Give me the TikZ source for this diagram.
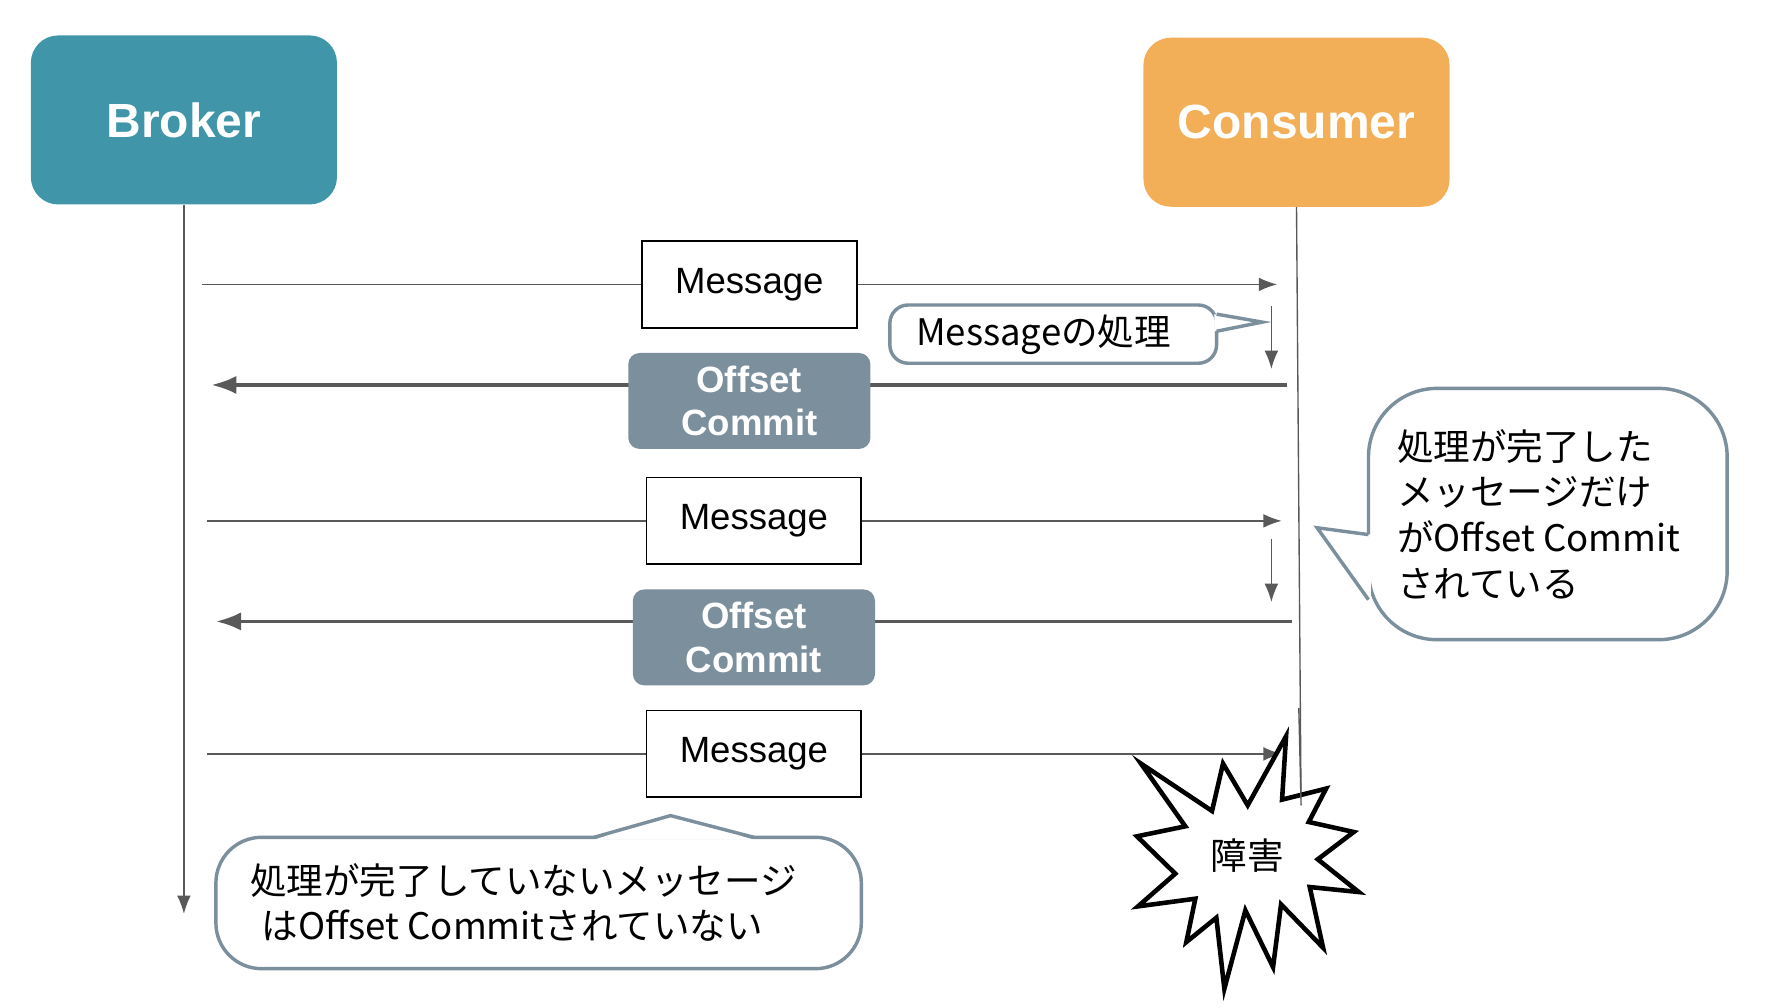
\documentclass[tikz,border=0pt]{standalone}
\usepackage{fontspec}
\setmainfont{Liberation Sans}
\newfontfamily\jp{Noto Sans CJK JP}
\usetikzlibrary{arrows.meta,positioning,calc}
\definecolor{brokerc}{HTML}{4096A8}
\definecolor{consc}{HTML}{F2AF57}
\definecolor{commitc}{HTML}{7B8F9C}
\definecolor{linec}{HTML}{595959}
\begin{document}
\begin{tikzpicture}[x=0.5pt, y=-0.5pt, >={Latex[length=8pt,width=6pt]},
    actor/.style={rounded corners=12pt, minimum width=134pt, minimum height=74pt, text=white, font=\fontsize{21}{24}\bfseries\selectfont},
    msg/.style={draw=black, thick, fill=white, minimum width=94pt, minimum height=38pt, font=\fontsize{16}{19}\selectfont},
    commit/.style={fill=commitc, rounded corners=5pt, minimum width=106pt, minimum height=42pt, text=white, align=center, font=\fontsize{16}{19}\bfseries\selectfont},
    send/.style={->, linec, semithick},
    ack/.style={->, linec, line width=1.6pt, >={Latex[length=11pt,width=8pt]}},
    note/.style={draw=commitc, line width=1.5pt, fill=white},
    notetext/.style={anchor=west, font=\fontsize{16}{20}\jp\selectfont}]
  \useasboundingbox (0,0) rectangle (1560,882);
  % actors
  \node[actor, fill=brokerc] (broker) at (161,105) {Broker};
  \node[actor, fill=consc] (consumer) at (1135,107) {Consumer};
  \coordinate (bend) at (161,800);
  \coordinate (cend) at (1139,705);
  \draw[send] (broker.south) -- (bend);
  \draw[linec, semithick] (consumer.south) -- (cend);
  % messages and commits
  \foreach \y/\xa/\xb/\n in {249/177/1118/1, 456/181/1122/2, 660/181/1122/3} {
    \coordinate (ms\n) at (\xa,\y);
    \coordinate (me\n) at (\xb,\y);
    \draw[send] (ms\n) -- (me\n);
  }
  \node[msg] (m1) at (656,249) {Message};
  \node[msg] (m2) at (660,456) {Message};
  \node[msg] (m3) at (660,660) {Message};
  \foreach \y/\xa/\xb/\n in {337/1127/185/1, 544/1131/189/2} {
    \coordinate (cs\n) at (\xa,\y);
    \coordinate (ce\n) at (\xb,\y);
    \draw[ack] (cs\n) -- (ce\n);
  }
  \node[commit] (c1) at (656,351) {Offset\\Commit};
  \node[commit] (c2) at (660,558) {Offset\\Commit};
  % processing
  \coordinate (p1a) at (1113,268); \coordinate (p1b) at (1113,323);
  \coordinate (p2a) at (1113,472); \coordinate (p2b) at (1113,527);
  \draw[send] (p1a) -- (p1b);
  \draw[send] (p2a) -- (p2b);
  % notes
  \draw[note, rounded corners=8pt] (779,267) rectangle (1065,318);
  \fill[white] (1063,275) -- (1105,282) -- (1063,290) -- cycle;
  \draw[commitc, line width=1.5pt] (1065,275) -- (1105,282) -- (1065,290);
  \node[notetext] (n1) at (795,293) {Messageの処理};
  \draw[note, rounded corners=30pt] (1198,340) rectangle (1512,560);
  \fill[white] (1200,468) -- (1153,462) -- (1200,525) -- cycle;
  \draw[commitc, line width=1.5pt] (1198,468) -- (1153,462) -- (1198,525);
  \node[notetext, align=left, font=\fontsize{16}{20}\jp\selectfont] (n2) at (1216,450) {処理が完了した\\メッセージだけ\\がOffset Commit\\されている};
  \draw[note, rounded corners=20pt] (189,733) rectangle (754,848);
  \fill[white] (520,735) -- (587,714) -- (660,735) -- cycle;
  \draw[commitc, line width=1.5pt] (520,733) -- (587,714) -- (660,733);
  \node[notetext, align=left] (n3) at (212,790) {処理が完了していないメッセージ\\\hspace*{5pt}はOffset Commitされていない};
  % failure
  \begin{scope}[shift={(963.2,613)}, scale=0.292]
    \draw[black, line width=2pt, fill=white] (557,108) -- (545,298) -- (677,265) -- (625,365) -- (760,395) -- (652,477) -- (775,575) -- (628,560) -- (668,742) -- (542,612) -- (518,800) -- (435,630) -- (372,865) -- (348,652) -- (258,725) -- (285,595) -- (113,618) -- (225,520) -- (110,408) -- (255,378) -- (122,190) -- (335,332) -- (368,190) -- (442,315) -- cycle;
    \node[font=\fontsize{16}{20}\jp\selectfont] (fail) at (440,465) {障害};
  \end{scope}
  \draw[linec, semithick] (1137,620) -- (cend);
\end{tikzpicture}
\end{document}
